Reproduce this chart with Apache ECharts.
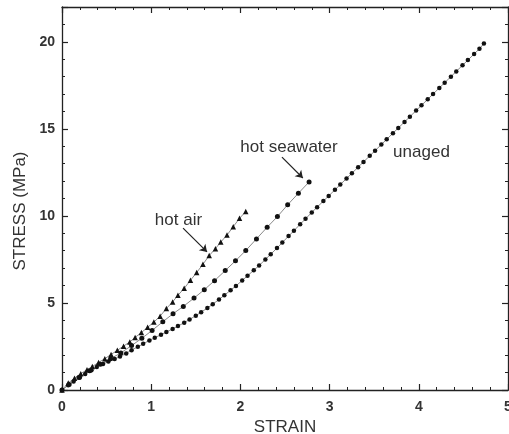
<!DOCTYPE html>
<html>
<head>
<meta charset="utf-8">
<script src="https://cdn.jsdelivr.net/npm/echarts@6/dist/echarts.min.js"></script>
<style>
html,body{margin:0;padding:0;background:#fff;overflow:hidden;}
#chart{width:509px;height:434px;}
</style>
</head>
<body>
<div id="chart"></div>
<script>
// ---- data ----
const unagedStrain = [0.00,0.07,0.13,0.20,0.26,0.33,0.39,0.46,0.52,0.59,0.65,0.72,0.78,0.85,0.91,0.98,1.04,1.11,1.17,1.24,1.30,1.37,1.43,1.50,1.56,1.63,1.69,1.76,1.82,1.89,1.95,2.02,2.08,2.15,2.21,2.28,2.34,2.41,2.47,2.54,2.60,2.67,2.73,2.80,2.86,2.93,2.99,3.06,3.12,3.19,3.25,3.32,3.38,3.45,3.51,3.58,3.64,3.71,3.77,3.84,3.90,3.97,4.03,4.10,4.16,4.23,4.29,4.36,4.42,4.49,4.55,4.62,4.68,4.73];
const unagedStress = [0,0.27,0.49,0.72,0.92,1.13,1.32,1.49,1.63,1.78,1.92,2.10,2.29,2.48,2.65,2.85,3.00,3.18,3.33,3.51,3.67,3.87,4.05,4.27,4.47,4.71,4.93,5.20,5.44,5.73,5.98,6.29,6.56,6.88,7.15,7.50,7.80,8.15,8.47,8.84,9.15,9.52,9.83,10.20,10.50,10.85,11.15,11.50,11.80,12.15,12.45,12.80,13.10,13.45,13.75,14.10,14.40,14.75,15.05,15.40,15.70,16.05,16.35,16.70,17.00,17.35,17.65,18.00,18.30,18.65,18.95,19.30,19.60,19.90];

const seawaterStrain = [0,0.08,0.19,0.31,0.43,0.545,0.66,0.78,0.895,1.01,1.13,1.245,1.36,1.48,1.595,1.71,1.83,1.945,2.06,2.18,2.30,2.415,2.53,2.65,2.77];
const seawaterStress = [0,0.32,0.72,1.10,1.48,1.80,2.13,2.55,2.97,3.42,3.92,4.38,4.80,5.28,5.76,6.28,6.86,7.42,8.01,8.68,9.35,9.96,10.64,11.30,11.95];

const hotAirStrain = [0,0.07,0.14,0.21,0.28,0.34,0.41,0.48,0.55,0.62,0.69,0.76,0.82,0.89,0.96,1.03,1.10,1.17,1.24,1.30,1.37,1.44,1.51,1.58,1.65,1.72,1.78,1.85,1.92,1.99,2.06];
const hotAirStress = [0,0.40,0.68,0.94,1.16,1.35,1.58,1.80,2.04,2.28,2.52,2.76,3.02,3.30,3.60,3.90,4.24,4.68,5.06,5.44,5.84,6.30,6.75,7.22,7.72,8.12,8.50,8.90,9.38,9.86,10.25];

const xTicks = {min: 0, max: 5, interval: 1};
const yTicks = {min: 0, max: 22, interval: 5};

// annotation texts and their anchor points in data units
const labels = [
  {text: 'hot air', at: [1.306, 9.76]},
  {text: 'hot seawater', at: [2.545, 13.96]},
  {text: 'unaged', at: [4.03, 13.67]}
];
const arrows = [
  {from: [1.357, 9.30], to: [1.626, 7.93]},
  {from: [2.466, 13.38], to: [2.70, 12.18]}
];

// ---- chart ----
const zip = (a, b) => a.map((v, i) => [v, b[i]]);
const FONT = "'Liberation Sans', Arial, sans-serif";
const INK = '#222';

function xAx(pos, showLabel) {
  return {
    type: 'value', position: pos, min: xTicks.min, max: xTicks.max, interval: xTicks.interval,
    axisLine: {show: true, onZero: false, lineStyle: {color: INK, width: 1.3}},
    axisTick: {show: true, inside: true, length: 6, lineStyle: {color: INK, width: 1.2}},
    minorTick: {show: true, splitNumber: 5, length: 3, lineStyle: {color: INK, width: 1}},
    splitLine: {show: false}, minorSplitLine: {show: false},
    axisLabel: {show: showLabel, margin: 10, color: '#333', fontSize: 14, fontWeight: 'bold', fontFamily: FONT},
    name: showLabel ? 'STRAIN' : '', nameLocation: 'middle', nameGap: 24,
    nameTextStyle: {color: '#333', fontSize: 17, fontFamily: FONT}
  };
}
function yAx(pos, interval, tickLen, showLine, showLabel, withName) {
  return {
    type: 'value', position: pos, min: yTicks.min, max: yTicks.max, interval: interval,
    axisLine: {show: showLine, onZero: false, lineStyle: {color: INK, width: 1.3}},
    axisTick: {show: true, inside: true, length: tickLen, lineStyle: {color: INK, width: tickLen > 4 ? 1.2 : 1}},
    splitLine: {show: false},
    axisLabel: {show: showLabel, margin: 7, color: '#333', fontSize: 14, fontWeight: 'bold', fontFamily: FONT,
      formatter: v => (v % yTicks.interval === 0 ? String(v) : '')},
    name: withName ? 'STRESS (MPa)' : '', nameLocation: 'middle', nameGap: 31,
    nameTextStyle: {color: '#333', fontSize: 17, fontFamily: FONT, padding: [0, 25, 0, 0]}
  };
}

const lineStyle = {color: '#8a8a8a', width: 1};
const chart = echarts.init(document.getElementById('chart'), null, {renderer: 'canvas'});
chart.setOption({
  animation: false,
  backgroundColor: '#fff',
  grid: {left: 62, right: 1, top: 7, bottom: 44, containLabel: false, outerBoundsMode: 'none'},
  xAxis: [xAx('bottom', true), xAx('top', false)],
  yAxis: [
    yAx('left', 1, 3, true, true, true),
    yAx('left', yTicks.interval, 6, false, false, false),
    yAx('right', 1, 3, true, false, false),
    yAx('right', yTicks.interval, 6, false, false, false)
  ],
  series: [
    {
      name: 'unaged', type: 'line', data: zip(unagedStrain, unagedStress),
      symbol: 'circle', symbolSize: 4.5, itemStyle: {color: '#111'}, lineStyle: lineStyle,
      markPoint: {
        silent: true, symbol: 'circle', symbolSize: 0,
        label: {show: true, position: 'inside', color: '#333', fontSize: 17, fontFamily: FONT, formatter: p => p.name},
        data: labels.map(l => ({name: l.text, coord: l.at}))
      }
    },
    {
      name: 'hot seawater', type: 'line', data: zip(seawaterStrain, seawaterStress),
      symbol: 'circle', symbolSize: 5, itemStyle: {color: '#111'}, lineStyle: lineStyle,
      markLine: {
        silent: true, symbol: ['none', 'arrow'], symbolSize: 7,
        label: {show: false},
        lineStyle: {color: INK, width: 1.2, type: 'solid'},
        data: arrows.map(a => [{coord: a.from}, {coord: a.to}])
      }
    },
    {
      name: 'hot air', type: 'line', data: zip(hotAirStrain, hotAirStress),
      symbol: 'triangle', symbolSize: 5.5, itemStyle: {color: '#111'}, lineStyle: lineStyle
    }
  ]
});
</script>
</body>
</html>
